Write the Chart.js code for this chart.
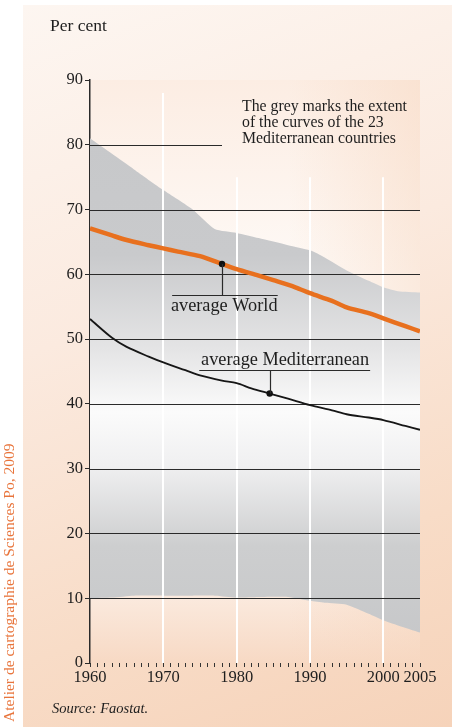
<!DOCTYPE html>
<html>
<head>
<meta charset="utf-8">
<script src="https://cdn.jsdelivr.net/npm/chart.js@4.4.1/dist/chart.umd.min.js"></script>
<style>
  html, body { margin: 0; padding: 0; background: #fff; }
  body { width: 452px; height: 727px; position: relative; overflow: hidden; font-family: "Liberation Serif", serif; }
  #panel { position: absolute; left: 23px; top: 5px; width: 429px; height: 722px;
    background: linear-gradient(160deg, #fdf6f1 0%, #fbeadf 40%, #f8dcc7 75%, #f6d3ba 100%); }
  #chart { position: absolute; left: 0; top: 0; }
  .txt { position: absolute; color: #1e1e1e; white-space: nowrap; }
  #unit { left: 50px; top: 15px; font-size: 17.5px; }
  #note { left: 242px; top: 98px; font-size: 15.8px; line-height: 16px; }
  #source { left: 52px; top: 700px; font-size: 14.5px; font-style: italic; }
  #credit { left: 10px; top: 722px; font-size: 15.5px; color: #e8743b;
    transform-origin: 0 0; transform: rotate(-90deg) translateY(-10px); }
</style>
</head>
<body>
<div id="panel"></div>
<canvas id="chart" width="452" height="727"></canvas>
<div class="txt" id="unit">Per cent</div>
<div class="txt" id="note">The grey marks the extent<br>of the curves of the 23<br>Mediterranean countries</div>
<div class="txt" id="source">Source: Faostat.</div>
<div class="txt" id="credit">Atelier de cartographie de Sciences Po, 2009</div>
<script>
// extent of the 23 Mediterranean countries (top and bottom of the grey band)
const bandYears = [1960, 1963, 1966, 1970, 1974, 1977, 1980, 1983, 1987, 1990, 1992, 1995, 1998, 2000, 2002, 2005]
const bandUpper = [81.0, 78.6, 76.2, 73.0, 70.0, 67.0, 66.4, 65.6, 64.5, 63.7, 62.6, 60.6, 59.0, 58.0, 57.4, 57.2]
const bandLower = [10.0, 10.1, 10.4, 10.4, 10.4, 10.4, 10.1, 10.2, 10.2, 9.6, 9.3, 9.0, 7.6, 6.6, 5.8, 4.7]

const worldYears = [1960, 1963, 1965, 1968, 1970, 1972, 1975, 1978, 1980, 1983, 1985, 1988, 1990, 1993, 1995, 1998, 2000, 2003, 2005]
const worldAvg = [67.1, 66.0, 65.3, 64.5, 64.0, 63.5, 62.8, 61.6, 60.8, 59.8, 59.1, 58.0, 57.1, 55.9, 54.9, 54.0, 53.2, 52.0, 51.2]

const medYears = [1960, 1963, 1965, 1968, 1970, 1973, 1975, 1978, 1980, 1982, 1984.5, 1987, 1990, 1993, 1995, 1998, 2000, 2003, 2005]
const medAvg = [53.1, 50.2, 48.8, 47.3, 46.4, 45.2, 44.4, 43.6, 43.2, 42.4, 41.6, 40.8, 39.8, 39.0, 38.4, 37.9, 37.5, 36.6, 36.0]

const worldMark = [{x: 1978, y: 61.6}]
const medMark = [{x: 1984.5, y: 41.6}]

const yearLabels = [1960, 1970, 1980, 1990, 2000, 2005]
const gridValues = [10, 20, 30, 40, 50, 60, 70]

function pts(xs, ys) {
  return xs.map((x, i) => ({x: x, y: ys[i]}))
}

function greyFill(context) {
  const area = context.chart.chartArea
  if (!area) return '#c8c9cb'
  const y = context.chart.scales.y
  const g = context.chart.ctx.createLinearGradient(0, y.getPixelForValue(90), 0, y.getPixelForValue(0))
  g.addColorStop(0, '#c6c7c9')
  g.addColorStop(0.30, '#c9cacc')
  g.addColorStop(0.46, '#e4e4e5')
  g.addColorStop(0.57, '#fbfbfb')
  g.addColorStop(0.66, '#f0f0f1')
  g.addColorStop(0.80, '#cdcecf')
  g.addColorStop(1, '#c5c6c8')
  return g
}

const serif = '"Liberation Serif", serif'

const decor = {
  id: 'decor',
  beforeDraw(chart) {
    const {ctx, chartArea: a} = chart
    ctx.save()
    const g = ctx.createLinearGradient(0, a.top, 0, a.bottom)
    g.addColorStop(0, '#fcede3')
    g.addColorStop(0.35, '#fefaf7')
    g.addColorStop(0.6, '#ffffff')
    g.addColorStop(0.85, '#fcefe6')
    g.addColorStop(1, '#f7d9c4')
    ctx.fillStyle = g
    ctx.fillRect(a.left, a.top, a.right - a.left, a.bottom - a.top)
    const h = ctx.createLinearGradient(a.left, 0, a.right, 0)
    h.addColorStop(0, 'rgba(247,214,190,0)')
    h.addColorStop(0.6, 'rgba(247,214,190,0)')
    h.addColorStop(1, 'rgba(247,214,190,0.45)')
    ctx.fillStyle = h
    ctx.fillRect(a.left, a.top, a.right - a.left, a.bottom - a.top)
    ctx.restore()
  },
  beforeDatasetsDraw(chart) {
    const {ctx, scales: {x, y}} = chart
    ctx.save()
    // white year lines
    ctx.strokeStyle = '#ffffff'
    ctx.lineWidth = 2
    ;[[1970, 88], [1980, 75], [1990, 75], [2000, 75]].forEach(([yr, top]) => {
      const px = Math.round(x.getPixelForValue(yr))
      ctx.beginPath()
      ctx.moveTo(px, y.getPixelForValue(top))
      ctx.lineTo(px, y.getPixelForValue(0))
      ctx.stroke()
    })
    // horizontal rules
    ctx.strokeStyle = '#2a2a2a'
    ctx.lineWidth = 1.2
    gridValues.forEach(v => {
      const py = Math.round(y.getPixelForValue(v)) + 0.5
      ctx.beginPath()
      ctx.moveTo(x.left, py)
      ctx.lineTo(x.right, py)
      ctx.stroke()
    })
    const p80 = Math.round(y.getPixelForValue(80)) + 0.5
    ctx.beginPath()
    ctx.moveTo(x.left, p80)
    ctx.lineTo(x.getPixelForValue(1978), p80)
    ctx.stroke()
    ctx.restore()
  },
  afterDatasetsDraw(chart) {
    const {ctx, scales: {x, y}} = chart
    ctx.save()
    ctx.strokeStyle = '#2a2a2a'
    ctx.lineWidth = 1.2
    ctx.fillStyle = '#1e1e1e'
    ctx.font = '18.3px ' + serif
    ctx.textAlign = 'center'
    ctx.textBaseline = 'middle'

    // label for the world average
    const wy = Math.round(y.getPixelForValue(56.8)) + 0.5
    const wx = Math.round(x.getPixelForValue(worldMark[0].x)) + 0.5
    ctx.beginPath()
    ctx.moveTo(wx, y.getPixelForValue(worldMark[0].y))
    ctx.lineTo(wx, wy)
    ctx.moveTo(x.getPixelForValue(1971.2), wy)
    ctx.lineTo(x.getPixelForValue(1985.6), wy)
    ctx.stroke()
    ctx.fillText('average World', x.getPixelForValue(1978.3), wy + 11)

    // label for the Mediterranean average
    const my = Math.round(y.getPixelForValue(45.2)) + 0.5
    const mx = Math.round(x.getPixelForValue(medMark[0].x)) + 0.5
    ctx.beginPath()
    ctx.moveTo(mx, my)
    ctx.lineTo(mx, y.getPixelForValue(medMark[0].y))
    ctx.moveTo(x.getPixelForValue(1974.9), my)
    ctx.lineTo(x.getPixelForValue(1998.2), my)
    ctx.stroke()
    ctx.fillText('average Mediterranean', x.getPixelForValue(1986.6), my - 10)
    ctx.restore()
  }
}

new Chart(document.getElementById('chart'), {
  type: 'line',
  data: {
    datasets: [
      {
        label: 'upper',
        data: pts(bandYears, bandUpper),
        borderWidth: 0,
        pointRadius: 0,
        fill: '+1',
        backgroundColor: greyFill,
        tension: 0.2,
        order: 4
      },
      {
        label: 'lower',
        data: pts(bandYears, bandLower),
        borderWidth: 0,
        pointRadius: 0,
        fill: false,
        tension: 0.2,
        order: 4
      },
      {
        label: 'average World',
        data: pts(worldYears, worldAvg),
        borderColor: '#e8701e',
        borderWidth: 4.5,
        pointRadius: 0,
        tension: 0.3,
        order: 2
      },
      {
        label: 'average Mediterranean',
        data: pts(medYears, medAvg),
        borderColor: '#161616',
        borderWidth: 1.8,
        pointRadius: 0,
        tension: 0.3,
        order: 2
      },
      {
        type: 'scatter',
        data: worldMark,
        pointRadius: 3.2,
        backgroundColor: '#111',
        borderWidth: 0,
        order: 1
      },
      {
        type: 'scatter',
        data: medMark,
        pointRadius: 3.2,
        backgroundColor: '#111',
        borderWidth: 0,
        order: 1
      }
    ]
  },
  options: {
    responsive: false,
    animation: false,
    layout: { padding: { top: 80, right: 32, bottom: 34, left: 0 } },
    plugins: {
      legend: { display: false },
      tooltip: { enabled: false },
      filler: { drawTime: 'beforeDatasetsDraw' }
    },
    scales: {
      x: {
        type: 'linear',
        min: 1960,
        max: 2005,
        afterFit: s => { s.height = 30 },
        afterBuildTicks: s => { s.ticks = []; for (let v = 1960; v <= 2005; v++) s.ticks.push({value: v}) },
        border: { display: false },
        grid: { drawOnChartArea: false, drawTicks: true, tickLength: 4, color: '#333', lineWidth: 1 },
        ticks: {
          autoSkip: false,
          maxRotation: 0,
          padding: 1,
          color: '#1e1e1e',
          font: { family: serif, size: 16.5 },
          callback: v => yearLabels.includes(v) ? String(v) : ''
        }
      },
      y: {
        min: 0,
        max: 90,
        afterFit: s => { s.width = 90 },
        border: { display: true, color: '#2a2a2a', width: 1.5 },
        grid: { drawOnChartArea: false, drawTicks: true, tickLength: 5, color: '#2a2a2a' },
        ticks: {
          stepSize: 10,
          padding: 2,
          color: '#1e1e1e',
          font: { family: serif, size: 16.5 }
        }
      }
    }
  },
  plugins: [decor]
})
</script>
</body>
</html>
